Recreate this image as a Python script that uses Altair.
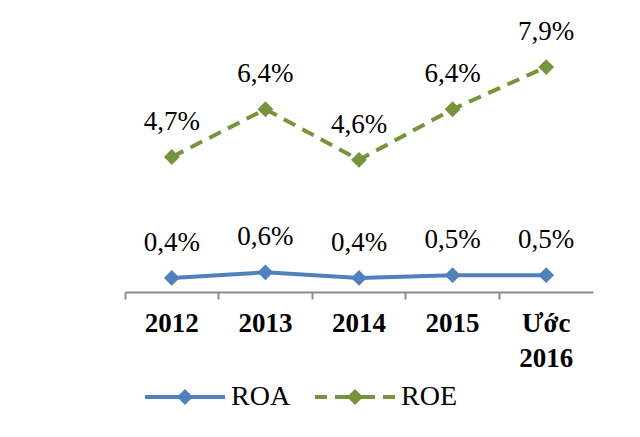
import altair as alt
import pandas as pd

years = ["2012", "2013", "2014", "2015", "Ước 2016"]
roa = [0.4, 0.6, 0.4, 0.5, 0.5]
roe = [4.7, 6.4, 4.6, 6.4, 7.9]
series = ["ROA", "ROE"]
colors = ["#4F81BD", "#77933C"]

rows = []
for s, vals in zip(series, [roa, roe]):
    for yr, v in zip(years, vals):
        rows.append({"year": yr, "series": s, "value": v,
                     "label": f"{v:.1f}".replace(".", ",") + "%"})
df = pd.DataFrame(rows)
df_roa = df[df.series == "ROA"]
df_roe = df[df.series == "ROE"]

path_roa = "M-1,-0.05L1,-0.05L1,0.05L-1,0.05Z M0,-0.2L0.2,0L0,0.2L-0.2,0Z"
path_roe = ("M-1,-0.05L-0.7,-0.05L-0.7,0.05L-1,0.05Z "
            "M-0.5,-0.05L-0.15,-0.05L-0.15,0.05L-0.5,0.05Z "
            "M0.15,-0.05L0.5,-0.05L0.5,0.05L0.15,0.05Z "
            "M0.7,-0.05L1,-0.05L1,0.05L0.7,0.05Z "
            "M0,-0.2L0.2,0L0,0.2L-0.2,0Z")

x_enc = alt.X(
    "year:N", sort=years,
    scale=alt.Scale(type="band", paddingInner=0, paddingOuter=0),
    axis=alt.Axis(
        title=None, labelAngle=0, labelFont="Liberation Serif", labelFontSize=27,
        labelFontWeight="bold", labelColor="black",
        labelExpr="split(datum.label, ' ')", labelLineHeight=35,
        bandPosition=0, tickExtra=False, tickSize=7, tickColor="#8c8c8c",
        tickWidth=2, domainColor="#8c8c8c", domainWidth=2, labelPadding=11,
        grid=False,
    ),
)
y_enc = alt.Y("value:Q", scale=alt.Scale(domain=[-0.1, 10], nice=False, zero=False), axis=None)

legend_common = dict(
    orient="none", direction="horizontal", title=None, padding=0,
    symbolSize=6400, labelOffset=6, symbolStrokeWidth=0,
    labelFont="Liberation Serif", labelFontSize=28, labelColor="black",
)

line_roa = alt.Chart(df_roa).mark_line(strokeWidth=4, color=colors[0]).encode(x=x_enc, y=y_enc)
line_roe = alt.Chart(df_roe).mark_line(strokeWidth=4, color=colors[1], strokeDash=[13, 8]).encode(x=x_enc, y=y_enc)

pts_roa = alt.Chart(df_roa).mark_point(shape="diamond", filled=True, size=250, opacity=1).encode(
    x=x_enc, y=y_enc,
    color=alt.Color("series:N", scale=alt.Scale(domain=["ROA"], range=[colors[0]]),
                    legend=alt.Legend(legendX=20, legendY=349, symbolType=path_roa,
                                      symbolFillColor=colors[0], **legend_common)),
)
pts_roe = alt.Chart(df_roe).mark_point(shape="diamond", filled=True, size=250, opacity=1).encode(
    x=x_enc, y=y_enc,
    fill=alt.Fill("series:N", scale=alt.Scale(domain=["ROE"], range=[colors[1]]),
                  legend=alt.Legend(legendX=190, legendY=349, symbolType=path_roe,
                                    symbolFillColor=colors[1], **legend_common)),
)

labels = alt.Chart(df).mark_text(font="Liberation Serif", fontSize=27, dy=-35, baseline="middle", color="black").encode(
    x=x_enc, y=y_enc, text="label:N"
)

chart = alt.layer(line_roa, line_roe, pts_roa, pts_roe, labels).properties(
    width=468, height=284,
    autosize=alt.AutoSizeParams(type="none"),
    padding={"left": 117, "top": 0, "right": 30, "bottom": 137},
).configure_view(stroke=None)

chart.save("out.html", embed_options={"renderer": "svg", "actions": False})
